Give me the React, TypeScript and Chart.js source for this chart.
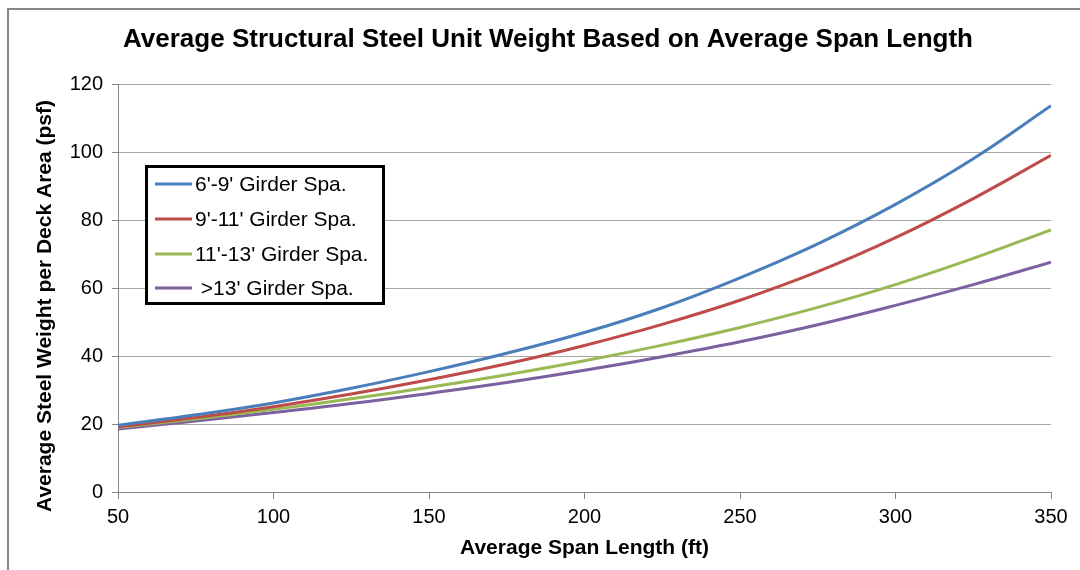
import { useEffect, useRef } from "react";
import { Chart, registerables } from "chart.js";

Chart.register(...registerables);

const chartTitle = "Average Structural Steel Unit Weight Based on Average Span Length";
const xTitle = "Average Span Length (ft)";
const yTitle = "Average Steel Weight per Deck Area (psf)";

const spanLengths = [50, 75, 100, 125, 150, 175, 200, 225, 250, 275, 300, 325, 350];
const girder6to9 = [19.6, 22.7, 26.2, 30.5, 35.4, 40.8, 46.9, 54.2, 63.0, 73.0, 84.6, 98.0, 113.6];
const girder9to11 = [19.2, 21.9, 25.1, 28.8, 33.0, 37.7, 43.1, 49.3, 56.4, 64.8, 74.8, 86.3, 99.0];
const girder11to13 = [19.0, 21.5, 24.3, 27.4, 30.8, 34.5, 38.6, 43.2, 48.4, 54.3, 61.0, 68.7, 77.1];
const girderOver13 = [18.5, 20.9, 23.4, 26.0, 29.0, 32.2, 35.8, 39.8, 44.2, 49.2, 54.9, 61.0, 67.6];

const seriesLabels = ["6'-9' Girder Spa.", "9'-11' Girder Spa.", "11'-13' Girder Spa.", " >13' Girder Spa."];
const seriesColors = ["#4a7ebb", "#be4b48", "#98b954", "#7d60a0"];
const seriesValues = [girder6to9, girder9to11, girder11to13, girderOver13];

const FONT = '"Liberation Sans", Arial, sans-serif';

const textPlugin = {
  id: "textPlugin",
  afterDraw(chart: any) {
    const ctx = chart.ctx as CanvasRenderingContext2D;
    const area = chart.chartArea;
    ctx.save();
    ctx.fillStyle = "#000";
    ctx.textBaseline = "middle";
    ctx.textAlign = "center";
    ctx.font = `bold 26px ${FONT}`;
    ctx.fillText(chartTitle, 548, 40);
    ctx.font = `bold 21px ${FONT}`;
    ctx.fillText(xTitle, (area.left + area.right) / 2, 548);
    ctx.save();
    ctx.translate(45, 306);
    ctx.rotate(-Math.PI / 2);
    ctx.fillText(yTitle, 0, 0);
    ctx.restore();

    // legend
    ctx.fillStyle = "#fff";
    ctx.fillRect(146.5, 166.5, 237, 137);
    ctx.strokeStyle = "#000";
    ctx.lineWidth = 3;
    ctx.strokeRect(146.5, 166.5, 237, 137);
    const rows = [184, 219, 254, 288];
    ctx.font = `21px ${FONT}`;
    ctx.textAlign = "left";
    chart.data.datasets.forEach((ds: any, i: number) => {
      ctx.strokeStyle = ds.borderColor;
      ctx.lineWidth = 3;
      ctx.beginPath();
      ctx.moveTo(155, rows[i]);
      ctx.lineTo(192, rows[i]);
      ctx.stroke();
      ctx.fillStyle = "#000";
      ctx.fillText(ds.label, 195, rows[i] + 1);
    });
    ctx.restore();
  },
};

export default function App() {
  const ref = useRef<HTMLCanvasElement>(null);
  useEffect(() => {
    const chart = new Chart(ref.current!, {
      type: "line",
      data: {
        datasets: seriesValues.map((vals, i) => ({
          label: seriesLabels[i],
          data: spanLengths.map((x, j) => ({ x, y: vals[j] })),
          borderColor: seriesColors[i],
          backgroundColor: seriesColors[i],
          borderWidth: 3,
          pointRadius: 0,
          tension: 0.4,
          fill: false,
        })),
      },
      options: {
        responsive: false,
        animation: false,
        layout: { padding: { left: 0, top: 84, right: 29, bottom: 0 } },
        plugins: {
          legend: { display: false },
          title: { display: false },
          tooltip: { enabled: false },
        },
        scales: {
          x: {
            type: "linear",
            min: 50,
            max: 350,
            ticks: { stepSize: 50, color: "#000", padding: 6, font: { family: FONT, size: 20 } },
            grid: { drawOnChartArea: false, tickLength: 7, color: "#868686" },
            border: { color: "#868686", width: 1 },
            afterFit: (s: any) => {
              s.height = 78;
            },
          },
          y: {
            min: 0,
            max: 120,
            ticks: { stepSize: 20, color: "#000", padding: 9, font: { family: FONT, size: 20 } },
            grid: { color: "#a6a6a6", tickColor: "#868686", tickLength: 6 },
            border: { color: "#868686", width: 1 },
            afterFit: (s: any) => {
              s.width = 118;
            },
          },
        },
      },
      plugins: [textPlugin],
    });
    return () => chart.destroy();
  }, []);
  return (
    <div style={{ position: "fixed", left: 0, top: 0, width: 1080, height: 570, overflow: "hidden", background: "#fff" }}>
      <div style={{ position: "absolute", left: 7, top: 8, width: 1200, height: 800, border: "2px solid #878787" }} />
      <canvas ref={ref} width={1080} height={570} style={{ position: "absolute", left: 0, top: 0 }} />
    </div>
  );
}
